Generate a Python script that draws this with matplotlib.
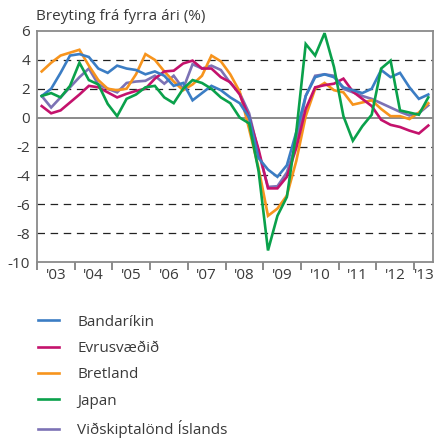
import numpy as np
import matplotlib.pyplot as plt

plt.rcParams['font.family'] = ['Open Sans', 'DejaVu Sans']

# quarterly data, 2003Q1 - 2013Q2
bandarikin = [1.5, 2.0, 3.1, 4.3, 4.4, 4.2, 3.4, 3.1, 3.6, 3.4, 3.3, 3.0, 3.2, 2.9,
              2.2, 2.4, 1.2, 1.7, 2.2, 1.9, 1.4, 1.0, 0.0, -2.8, -3.6, -4.1, -3.3,
              -1.0, 1.5, 2.8, 3.0, 2.8, 2.1, 1.9, 1.7, 2.0, 3.3, 2.8, 3.1, 2.1, 1.3, 1.6]
evrusvaedid = [0.8, 0.3, 0.5, 1.05, 1.6, 2.2, 2.1, 1.75, 1.4, 1.65, 1.85, 2.0, 2.7, 3.2,
               3.25, 3.75, 3.95, 3.4, 3.4, 2.8, 2.45, 1.6, 0.0, -2.2, -4.9, -4.9, -4.1,
               -2.1, 0.6, 2.1, 2.25, 2.35, 2.7, 1.8, 1.3, 0.8, -0.15, -0.5, -0.65, -0.9, -1.1, -0.55]
bretland = [3.2, 3.8, 4.3, 4.5, 4.7, 3.6, 2.6, 2.0, 1.9, 2.0, 3.0, 4.4, 4.0, 3.2,
            2.5, 1.9, 2.3, 2.9, 4.3, 3.9, 3.0, 1.8, -0.8, -3.5, -6.8, -6.3, -5.4,
            -3.0, 0.1, 2.0, 2.4, 1.9, 1.75, 0.9, 1.05, 1.2, 0.6, 0.1, 0.1, -0.1, 0.35, 1.0]
japan = [1.5, 1.7, 1.4, 2.2, 3.8, 2.6, 2.3, 0.95, 0.1, 1.3, 1.6, 2.1, 2.2, 1.4,
         1.0, 2.0, 2.6, 2.4, 2.0, 1.4, 1.0, 0.0, -0.4, -3.7, -9.2, -6.8, -5.5,
         -1.0, 5.1, 4.3, 5.85, 3.5, 0.1, -1.6, -0.6, 0.2, 3.4, 3.95, 0.5, 0.35, 0.2, 1.4]
vidskiptalond = [1.5, 0.7, 1.4, 2.1, 2.8, 3.4, 2.3, 2.0, 1.75, 2.4, 2.5, 2.55, 2.9, 2.35,
                 2.9, 2.0, 3.7, 3.4, 3.6, 3.3, 2.4, 1.7, 0.3, -2.4, -4.8, -4.75, -3.8,
                 -1.8, 1.5, 2.9, 3.0, 2.9, 2.0, 1.75, 1.5, 1.3, 1.0, 0.7, 0.4, 0.15, 0.3, 0.85]

years = list(range(2003, 2014))
year_labels = ["'03", "'04", "'05", "'06", "'07", "'08", "'09", "'10", "'11", "'12", "'13"]

x = 2003 + (np.arange(len(bandarikin)) + 0.5) / 4

fig = plt.figure(figsize=(4.38, 4.38), dpi=100)
ax = fig.add_axes([37 / 438, 176 / 438, 396 / 438, 231 / 438])

text_color = '#3a3a3a'
fs = 11
series = [
    ('Bandaríkin', bandarikin, '#3b7dc4', 5),
    ('Evrusvæðið', evrusvaedid, '#c4126c', 4),
    ('Bretland', bretland, '#f7941d', 3),
    ('Japan', japan, '#0aa14b', 6),
    ('Viðskiptalönd Íslands', vidskiptalond, '#7c72b5', 2),
]
for name, vals, col, z in series:
    ax.plot(x, vals, color=col, lw=1.9, label=name, zorder=z, solid_joinstyle='miter')

for yv in [-8, -6, -4, -2, 2, 4]:
    ax.axhline(yv, color='#222222', lw=0.9, dashes=(6, 4.5), zorder=1)
ax.axhline(0, color='#8a8a8a', lw=1.4, zorder=1)

ax.set_xlim(2003, 2013.5)
ax.set_ylim(-10, 6)
ax.set_yticks(range(-10, 7, 2))
ax.set_yticklabels([str(v) for v in range(-10, 7, 2)])

ax.set_xticks(years)
ax.set_xticklabels([])
ax.set_xticks([y + 0.5 for y in years[:-1]] + [2013.26], minor=True)
ax.set_xticklabels(year_labels, minor=True)
ax.tick_params(axis='x', which='major', direction='out', length=6, width=1.2, color='#777777')
ax.tick_params(axis='x', which='minor', length=0, pad=4, labelsize=fs, labelcolor=text_color)
ax.tick_params(axis='y', length=0, pad=5, labelsize=fs, labelcolor=text_color)

for s in ax.spines.values():
    s.set_color('#8a8a8a')
    s.set_linewidth(1.3)

fig.text(36 / 438, 1 - 16 / 438, 'Breyting frá fyrra ári (%)', fontsize=fs,
         color=text_color, ha='left', va='center')

fig.legend(loc='upper left', bbox_to_anchor=(30 / 438, 1 - 307 / 438), frameon=False,
           fontsize=fs, handlelength=1.4, handletextpad=1.2, labelspacing=0.74,
           borderpad=0, labelcolor=text_color)

fig.savefig('out.png', dpi=100)
